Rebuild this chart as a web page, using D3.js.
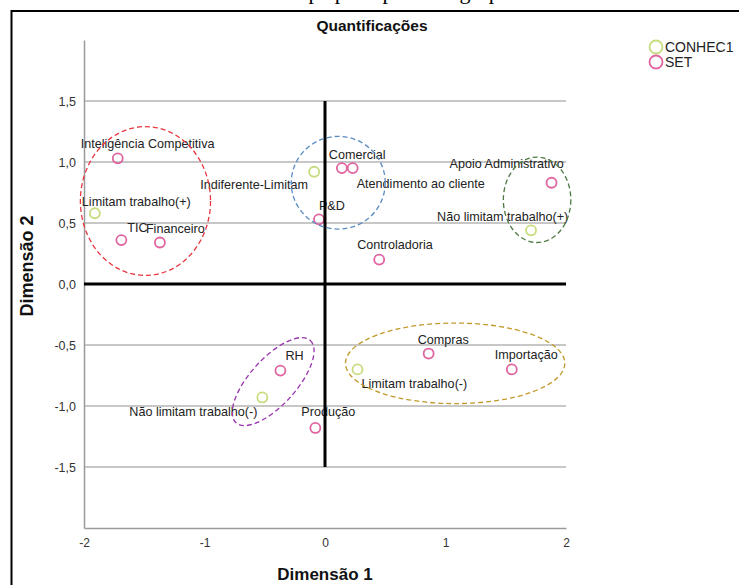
<!DOCTYPE html>
<html>
<head>
<meta charset="utf-8">
<script src="https://cdn.jsdelivr.net/npm/d3@7"></script>
<style>
  html, body { margin: 0; padding: 0; background: #fff; }
  svg { display: block; }
</style>
</head>
<body>
<svg id="chart" width="739" height="585"></svg>
<script>
// Category quantifications (Dimensão 1, Dimensão 2)
const conhecLabels = ["Limitam trabalho(+)", "Indiferente-Limitam", "Não limitam trabalho(+)", "Limitam trabalho(-)", "Não limitam trabalho(-)"];
const conhecDim1 = [-1.91, -0.09, 1.71, 0.27, -0.52];
const conhecDim2 = [0.58, 0.92, 0.44, -0.70, -0.93];

const setLabels = ["Inteligência Competitiva", "TIC", "Financeiro", "Comercial", "Atendimento ao cliente", "P&D", "Apoio Administrativo", "Controladoria", "Compras", "Importação", "RH", "Produção"];
const setDim1 = [-1.72, -1.69, -1.37, 0.14, 0.23, -0.05, 1.88, 0.45, 0.86, 1.55, -0.37, -0.08];
const setDim2 = [1.03, 0.36, 0.34, 0.95, 0.95, 0.53, 0.83, 0.20, -0.57, -0.70, -0.71, -1.18];

// Label nudges (pixels) so names sit beside their markers
const conhecLabelOffsets = [[-13, -12], [-114, 13], [-94, -14], [4, 14], [-133, 14]];
const setLabelOffsets = [[-37, -15], [6, -12], [-14, -14], [-13, -14], [4, 15], [0, -14], [-102, -19], [-22, -15], [-11, -14], [-17, -15], [5, -15], [-14, -16]];

const xTicks = [-2, -1, 0, 1, 2];
const yTicks = [-1.5, -1.0, -0.5, 0.0, 0.5, 1.0, 1.5];

// Hand-drawn groupings (centre and radii in dimension units, rotation in degrees)
const groupCx = [-1.49, 0.11, 1.76, -0.43, 1.08];
const groupCy = [0.68, 0.83, 0.69, -0.80, -0.65];
const groupRx = [0.54, 0.39, 0.28, 0.46, 0.91];
const groupRy = [0.61, 0.38, 0.35, 0.19, 0.33];
const groupRot = [0, 0, 0, -48, 0];
const groupColors = ["#e8363f", "#5a8cc4", "#4f7a44", "#9a35b0", "#c29a2c"];

const svg = d3.select("#chart");
const font = "'Liberation Sans', Arial, sans-serif";

// Caption line running above the frame (only its lower edge shows)
svg.append("text")
  .attr("x", 395).attr("y", -1)
  .attr("text-anchor", "middle")
  .attr("font-family", "'Liberation Serif', 'Times New Roman', serif")
  .attr("font-size", 22)
  .attr("fill", "#000")
  .text("Mapa perceptual do grupo");

// Outer frame
svg.append("rect")
  .attr("x", 11.5).attr("y", 11)
  .attr("width", 760).attr("height", 600)
  .attr("fill", "#fff")
  .attr("stroke", "#000").attr("stroke-width", 2);

const x = d3.scaleLinear().domain([-2, 2]).range([84, 566]);
const y = d3.scaleLinear().domain([-2, 2]).range([528, 40]);

// Title
svg.append("text")
  .attr("x", 372).attr("y", 31)
  .attr("text-anchor", "middle")
  .attr("font-family", font).attr("font-weight", "bold").attr("font-size", 15.5)
  .attr("fill", "#111")
  .text("Quantificações");

// Horizontal grid lines
svg.append("g").selectAll("line")
  .data(yTicks.filter(d => d !== 0))
  .join("line")
  .attr("x1", x(-2)).attr("x2", x(2))
  .attr("y1", d => y(d)).attr("y2", d => y(d))
  .attr("stroke", "#b4b4b4").attr("stroke-width", 1.5);

// Y axis
const yAxis = d3.axisLeft(y).tickValues(yTicks).tickSize(0).tickPadding(8)
  .tickFormat(d => d3.format(".1f")(d).replace(".", ",").replace("−", "-"));
const gy = svg.append("g").attr("transform", `translate(${x(-2)},0)`).call(yAxis);
gy.select(".domain").attr("stroke", "#9a9a9a").attr("stroke-width", 1.5);
gy.selectAll("text").attr("font-family", font).attr("font-size", 12.5).attr("fill", "#333");

// X axis
const xAxis = d3.axisBottom(x).tickValues(xTicks).tickSize(0).tickPadding(10)
  .tickFormat(d => String(d));
const gx = svg.append("g").attr("transform", `translate(0,${y(-2)})`).call(xAxis);
gx.select(".domain").attr("stroke", "#9a9a9a").attr("stroke-width", 1.5);
gx.selectAll("text").attr("font-family", font).attr("font-size", 12).attr("fill", "#333");

// Axis titles
svg.append("text")
  .attr("x", x(0)).attr("y", 580)
  .attr("text-anchor", "middle")
  .attr("font-family", font).attr("font-weight", "bold").attr("font-size", 17)
  .attr("fill", "#111")
  .text("Dimensão 1");
svg.append("text")
  .attr("transform", `translate(33,266) rotate(-90)`)
  .attr("text-anchor", "middle")
  .attr("font-family", font).attr("font-weight", "bold").attr("font-size", 18)
  .attr("fill", "#111")
  .text("Dimensão 2");

// Category points
const conhec = conhecLabels.map((l, i) => ({ label: l, d1: conhecDim1[i], d2: conhecDim2[i], off: conhecLabelOffsets[i], color: "#c6dc7e" }));
const sets = setLabels.map((l, i) => ({ label: l, d1: setDim1[i], d2: setDim2[i], off: setLabelOffsets[i], color: "#e0649f" }));
const all = conhec.concat(sets);

svg.append("g").selectAll("circle")
  .data(all)
  .join("circle")
  .attr("cx", d => x(d.d1)).attr("cy", d => y(d.d2))
  .attr("r", 5)
  .attr("fill", "none")
  .attr("stroke", d => d.color).attr("stroke-width", 1.8);

svg.append("g").selectAll("text")
  .data(all)
  .join("text")
  .attr("x", d => x(d.d1) + d.off[0])
  .attr("y", d => y(d.d2) + d.off[1])
  .attr("dy", "0.35em")
  .attr("font-family", font).attr("font-size", 12.6)
  .attr("fill", "#222")
  .text(d => d.label);

// Origin reference lines
svg.append("line")
  .attr("x1", x(-2)).attr("x2", x(2))
  .attr("y1", y(0)).attr("y2", y(0))
  .attr("stroke", "#000").attr("stroke-width", 3);
svg.append("line")
  .attr("x1", x(0)).attr("x2", x(0))
  .attr("y1", y(1.5)).attr("y2", y(-1.5))
  .attr("stroke", "#000").attr("stroke-width", 3);

// Dashed group outlines
svg.append("g").selectAll("ellipse")
  .data(groupCx.map((c, i) => i))
  .join("ellipse")
  .attr("transform", i => `translate(${x(groupCx[i])},${y(groupCy[i])}) rotate(${groupRot[i]})`)
  .attr("rx", i => x(groupRx[i]) - x(0))
  .attr("ry", i => y(0) - y(groupRy[i]))
  .attr("fill", "none")
  .attr("stroke", i => groupColors[i])
  .attr("stroke-width", 1.3)
  .attr("stroke-dasharray", "5,3");

// Legend
const legend = svg.append("g").attr("transform", "translate(656,47)");
const legendItems = [["CONHEC1", "#c6dc7e"], ["SET", "#e0649f"]];
legendItems.forEach((it, i) => {
  const g = legend.append("g").attr("transform", `translate(0,${i * 15})`);
  g.append("circle").attr("r", 6.5).attr("fill", "none").attr("stroke", it[1]).attr("stroke-width", 1.8);
  g.append("text").attr("x", 9).attr("dy", "0.36em")
    .attr("font-family", font).attr("font-size", 14).attr("fill", "#222")
    .text(it[0]);
});
</script>
</body>
</html>
